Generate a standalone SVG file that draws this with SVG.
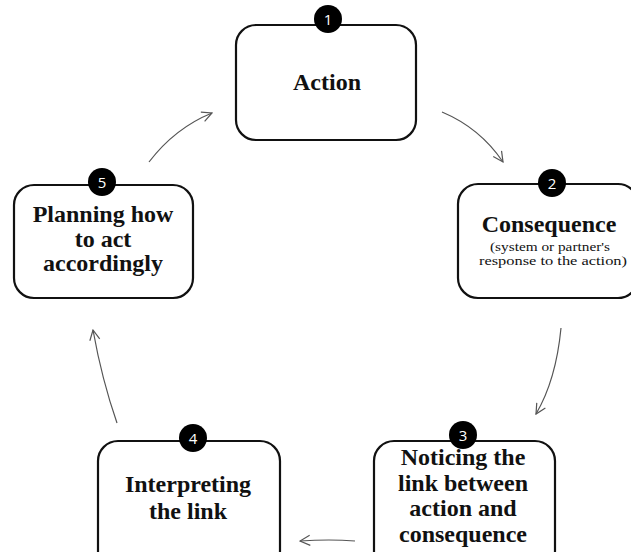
<svg xmlns="http://www.w3.org/2000/svg" width="631" height="552" viewBox="0 0 631 552">
<defs>
<style>
.box{fill:#fff;stroke:#111;stroke-width:2.2}
.t{font-family:"Liberation Serif","Times New Roman",serif;font-weight:bold;font-size:24px;fill:#111;text-anchor:middle}
.s{font-family:"Liberation Serif","Times New Roman",serif;font-size:12.5px;fill:#111;text-anchor:middle}
.badge{fill:#000}
.n{font-family:"Open Sans","DejaVu Sans",sans-serif;font-size:15px;fill:#fff;text-anchor:middle}
.c{fill:none;stroke:#555;stroke-width:1.2}
</style>
<marker id="ah" viewBox="0 0 12 12" refX="11" refY="6" markerWidth="12" markerHeight="12" markerUnits="userSpaceOnUse" orient="auto">
<path d="M1,1 L11,6 L1,11" fill="none" stroke="#555" stroke-width="1.2"/>
</marker>
</defs>
<rect width="631" height="552" fill="#fff"/>
<g id="connectors">
<path class="c" d="M442,112 Q480,128 503,162" marker-end="url(#ah)"/>
<path class="c" d="M561,328 Q556,380 536,414" marker-end="url(#ah)"/>
<path class="c" d="M355,541 Q330,539 300,541" marker-end="url(#ah)"/>
<path class="c" d="M117,423 Q102,380 93,330" marker-end="url(#ah)"/>
<path class="c" d="M149,162 Q175,128 212,113" marker-end="url(#ah)"/>
</g>
<g id="node1">
<rect class="box" x="236" y="25" width="180" height="115" rx="20"/>
<circle class="badge" cx="328" cy="19" r="14"/>
<text class="n" x="328" y="24.5">1</text>
<text class="t" x="327" y="90">Action</text>
</g>
<g id="node2">
<rect class="box" x="458" y="184" width="180" height="114" rx="20"/>
<circle class="badge" cx="552" cy="183" r="14"/>
<text class="n" x="552" y="188.5">2</text>
<text class="t" x="549" y="232">Consequence</text>
<text class="s" x="550" y="250.5" textLength="120" lengthAdjust="spacingAndGlyphs">(system or partner's</text>
<text class="s" x="553" y="264.5" textLength="148" lengthAdjust="spacingAndGlyphs">response to the action)</text>
</g>
<g id="node3">
<rect class="box" x="374" y="441" width="181" height="130" rx="20"/>
<circle class="badge" cx="463" cy="435" r="14"/>
<text class="n" x="463" y="440.5">3</text>
<text class="t" x="463" y="465">Noticing the</text>
<text class="t" x="463" y="491">link between</text>
<text class="t" x="463" y="516">action and</text>
<text class="t" x="463" y="542">consequence</text>
</g>
<g id="node4">
<rect class="box" x="98" y="441" width="182" height="130" rx="20"/>
<circle class="badge" cx="193" cy="438" r="14"/>
<text class="n" x="193" y="443.5">4</text>
<text class="t" x="188" y="492">Interpreting</text>
<text class="t" x="188" y="519">the link</text>
</g>
<g id="node5">
<rect class="box" x="14" y="185" width="179" height="113" rx="20"/>
<circle class="badge" cx="102" cy="182" r="14"/>
<text class="n" x="102" y="187.5">5</text>
<text class="t" x="103" y="222">Planning how</text>
<text class="t" x="103" y="247">to act</text>
<text class="t" x="103" y="271">accordingly</text>
</g>
</svg>
